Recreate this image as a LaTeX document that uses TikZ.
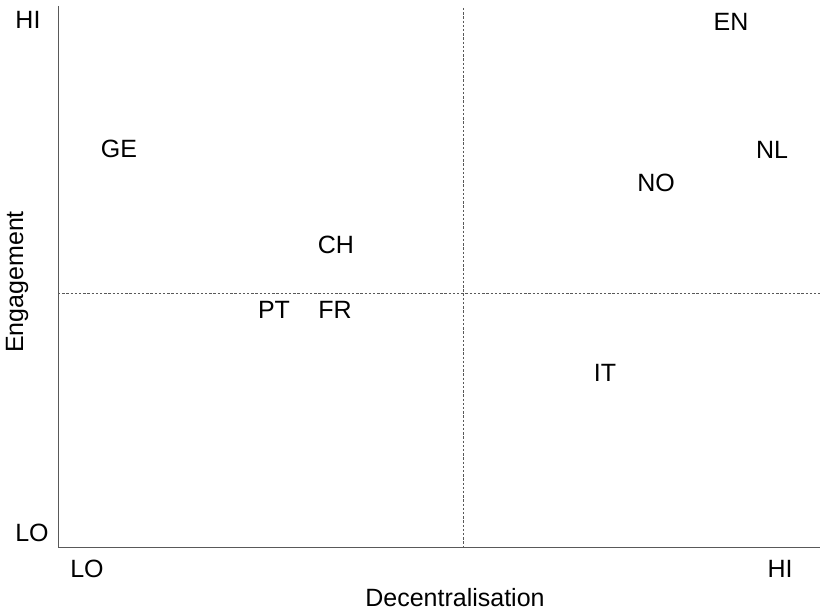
\documentclass[tikz,border=0pt]{standalone}
\usepackage{fontspec}
\setmainfont{Liberation Sans}
\tikzset{
  lbl/.style={font=\fontsize{25}{29}\selectfont, inner sep=0pt},
  axis/.style={draw=black!65, line width=1pt},
  divider/.style={draw=black!65, line width=0.9pt, dash pattern=on 2.4pt off 1.8pt}
}
\begin{document}
\begin{tikzpicture}[x=1pt, y=1pt]
    \useasboundingbox (0,0) rectangle (820,612);
    \coordinate (origin) at (58,64);
    \coordinate (ytop) at (58,606);
    \coordinate (xend) at (820,64);
    \coordinate (vtop) at (463,604);
    \coordinate (vbot) at (463,64);
    \coordinate (hleft) at (58,319);
    \coordinate (hright) at (820,319);

    \node[lbl] at (28,592)(yhi){HI};
    \node[lbl] at (32,79)(ylo){LO};
    \node[lbl] at (87,43)(xlo){LO};
    \node[lbl] at (780,43)(xhi){HI};
    \node[lbl] at (455,14)(xlab){Decentralisation};
    \node[lbl, rotate=90] at (17,330)(ylab){Engagement};

    \node[lbl] at (731,590)(en){EN};
    \node[lbl] at (772,462)(nl){NL};
    \node[lbl] at (656,429)(no){NO};
    \node[lbl] at (119,463)(ge){GE};
    \node[lbl] at (336,367)(ch){CH};
    \node[lbl] at (274,302)(pt){PT};
    \node[lbl] at (335,302)(fr){FR};
    \node[lbl] at (605,239)(it){IT};

    \draw[divider](vtop) -- (vbot);
    \draw[divider](hleft) -- (hright);
    \draw[axis](ytop) -- (origin) -- (xend);
\end{tikzpicture}
\end{document}
